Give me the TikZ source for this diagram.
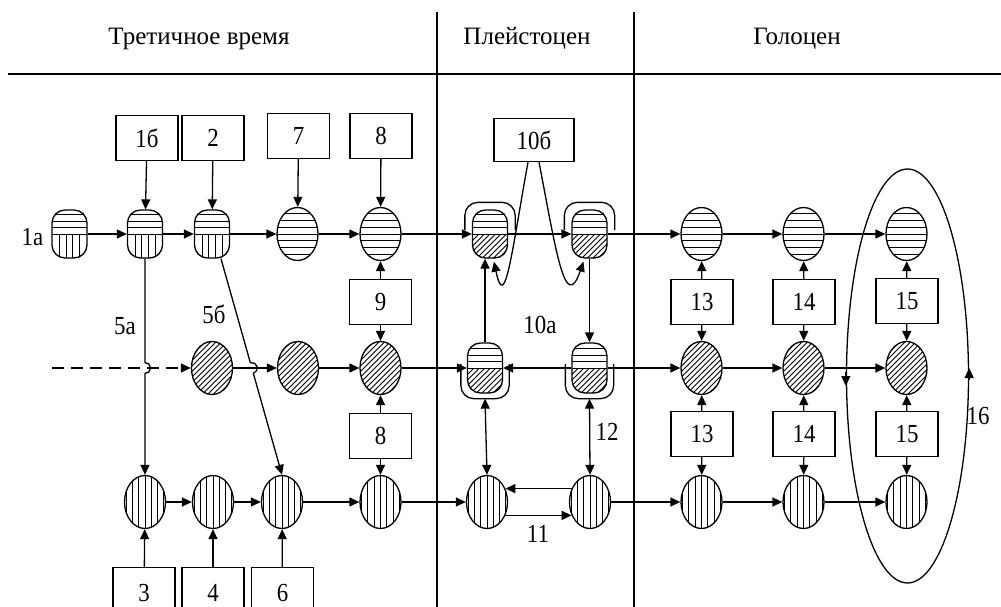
\documentclass[tikz,border=0pt]{standalone}
\usepackage{fontspec}
\setmainfont{Liberation Serif}
\newfontfamily\condserif{Liberation Serif}[FakeStretch=0.88]
\usetikzlibrary{shapes.geometric,arrows.meta,calc}
\begin{document}
\begin{tikzpicture}[x=1pt,y=-1pt,line width=1.3pt,
  txt/.style={font=\condserif\fontsize{26}{30}\selectfont, inner sep=0pt},
  head/.style={font=\fontsize{25}{30}\selectfont, inner sep=0pt, anchor=base},
  tip/.style={-{Triangle[length=10pt,width=9pt]}},
  dtip/.style={{Triangle[length=10pt,width=9pt]}-{Triangle[length=10pt,width=9pt]}},
  hatch/.style={line width=0.9pt},
  box/.style={draw, rectangle, minimum width=62pt, minimum height=45pt, inner sep=0pt,
    font=\condserif\fontsize{26}{30}\selectfont},
  bbox/.style={box, anchor=north, text height=34pt, text depth=26pt},
  oval/.style={draw, ellipse, minimum width=41pt, minimum height=53pt, inner sep=0pt},
  ovH/.style={oval, path picture={
     \foreach \k in {-3,...,3}
       \draw[hatch] ([yshift=\k*6.7pt]path picture bounding box.west) -- ([yshift=\k*6.7pt]path picture bounding box.east);}},
  ovV/.style={oval, path picture={
     \foreach \k in {-3,...,3}
       \draw[hatch] ([xshift=\k*6.3pt]path picture bounding box.north) -- ([xshift=\k*6.3pt]path picture bounding box.south);}},
  ovD/.style={oval, path picture={
     \foreach \k in {-9,...,9}
       \draw[hatch] ([xshift=\k*5.5pt-40pt, yshift=-40pt]path picture bounding box.center) -- ++(80pt,80pt);}},
  caps/.style={draw, rectangle, rounded corners=13pt, minimum width=35pt, minimum height=48pt, inner sep=0pt},
  capT/.style={caps, path picture={
     \foreach \k in {0,6.5,13,19.5}
       \draw[hatch] ([yshift=\k pt]path picture bounding box.west) -- ([yshift=\k pt]path picture bounding box.east);
     \foreach \k in {-10,-3.3,3.3,10}
       \draw[hatch] ([xshift=\k pt]path picture bounding box.center) -- ([xshift=\k pt]path picture bounding box.south);}},
  capP/.style={caps, path picture={
     \foreach \k in {0,6.5,13,19.5}
       \draw[hatch] ([yshift=\k pt]path picture bounding box.west) -- ([yshift=\k pt]path picture bounding box.east);
     \begin{scope}
       \clip[sharp corners] (path picture bounding box.west) rectangle (path picture bounding box.south east);
       \foreach \k in {-9,...,9}
         \draw[hatch] ([xshift=\k*5.5pt-40pt, yshift=-40pt]path picture bounding box.center) -- ++(80pt,80pt);
     \end{scope}}},
]
\fill[white] (0,0) rectangle (1001,607);
\useasboundingbox (0,0) rectangle (1001,607);

% header
\draw[line width=1.9pt] (8,74) -- (1001,74);
\draw (437,12) -- (437,607);
\draw (634,12) -- (634,607);
\node[head] (t1) at (199,45) {Третичное время};
\node[head] (t2) at (527,45) {Плейстоцен};
\node[head] (t3) at (797,45) {Голоцен};

% top boxes
\node[box] (b1b) at (147,138) {1б};
\node[box] (b2) at (213,138) {2};
\node[box] (b7) at (298.5,136) {7};
\node[box] (b8t) at (381,136) {8};
\node[box, minimum width=80pt, minimum height=43pt] (b10) at (534,140) {10б};

% row 1
\node[capT] (c1a) at (69.5,234) {};
\node[capT] (c1b) at (145,234) {};
\node[capT] (c2) at (212,234) {};
\node[ovH] (h7) at (297.5,234) {};
\node[ovH] (h8) at (380.5,234) {};
\node[capP] (pL1) at (490,234) {};
\node[capP] (pR1) at (589.5,234) {};
\node[ovH] (h13) at (701.5,234) {};
\node[ovH] (h14) at (803.5,234) {};
\node[ovH] (h15) at (906.5,234) {};

% row 2
\coordinate (dstart) at (52,368);
\node[ovD] (d2) at (212,368) {};
\node[ovD] (d7) at (298,368) {};
\node[ovD] (d8) at (380.5,368) {};
\node[capP, minimum height=50pt] (pL2) at (485,368) {};
\node[capP, minimum height=50pt] (pR2) at (589.5,368) {};
\node[ovD] (d13) at (701.5,368) {};
\node[ovD] (d14) at (803.5,368) {};
\node[ovD] (d15) at (906.5,368) {};

% row 3
\node[ovV] (v3) at (145,502) {};
\node[ovV] (v4) at (213,502) {};
\node[ovV] (v6) at (282,502) {};
\node[ovV] (v8) at (380.5,502) {};
\node[ovV] (vL) at (487,502) {};
\node[ovV] (vR) at (590,502) {};
\node[ovV] (v13) at (701.5,502) {};
\node[ovV] (v14) at (803.5,502) {};
\node[ovV] (v15) at (906.5,502) {};

% middle boxes
\node[box] (b9) at (380.5,302) {9};
\node[box] (b8b) at (380.5,436) {8};
\node[box] (b13a) at (702,302) {13};
\node[box] (b13b) at (702,434) {13};
\node[box] (b14a) at (804,302) {14};
\node[box] (b14b) at (804,434) {14};
\node[box] (b15a) at (907,301) {15};
\node[box] (b15b) at (907,434) {15};

% bottom boxes
\node[bbox] (b3) at (144,567) {3};
\node[bbox] (b4) at (213,567) {4};
\node[bbox] (b6) at (282.5,567) {6};

% covers of the Pleistocene capsules
\draw[rounded corners=13pt] ($(pL1.west)+(-7,-4)$) -- ($(pL1.north west)+(-7,-7)$)
  -- ($(pL1.north east)+(7,-7)$) -- ($(pL1.east)+(7,-4)$);
\draw[rounded corners=13pt] ($(pR1.west)+(-7,-4)$) -- ($(pR1.north west)+(-7,-7)$)
  -- ($(pR1.north east)+(7,-7)$) -- ($(pR1.east)+(7,-4)$);
\coordinate (cupL) at ($(pL2.south)+(0,5)$);
\coordinate (cupR) at ($(pR2.south)+(0,5)$);
\draw[rounded corners=13pt] ($(pL2.west)+(-6,-4)$) -- ($(pL2.south west)+(-6,5)$)
  -- ($(pL2.south east)+(6,5)$) -- ($(pL2.east)+(6,-4)$);
\draw[rounded corners=13pt] ($(pR2.west)+(-6,-4)$) -- ($(pR2.south west)+(-6,5)$)
  -- ($(pR2.south east)+(6,5)$) -- ($(pR2.east)+(6,-4)$);

% big ring of 16
\node[draw, ellipse, minimum width=122pt, minimum height=414pt, inner sep=0pt] (ring) at (907.5,376) {};
\draw[tip] ($(ring.west)+(0,-4)$) -- ($(ring.west)+(0,10)$);
\draw[tip] ($(ring.east)+(0,4)$) -- ($(ring.east)+(0,-8)$);

% row 1 links
\draw[tip] (c1a) -- (c1b);
\draw[tip] (c1b) -- (c2);
\draw[tip] (c2) -- (h7);
\draw[tip] (h7) -- (h8);
\draw[tip] (h8) -- (pL1);
\draw[tip] (pL1) -- (pR1);
\draw[tip] (pR1) -- (h13);
\draw[tip] (h13) -- (h14);
\draw[tip] (h14) -- (h15);

% row 2 links
\draw[tip, dash pattern=on 12pt off 7pt] (dstart) -- (d2);
\draw[tip] (d2) -- (d7);
\draw[tip] (d7) -- (d8);
\draw[tip] (d8) -- (pL2);
\draw[tip] (pR2) -- (pL2);
\draw[tip] (pR2) -- (d13);
\draw[tip] (d13) -- (d14);
\draw[tip] (d14) -- (d15);

% row 3 links
\draw[tip] (v3) -- (v4);
\draw[tip] (v4) -- (v6);
\draw[tip] (v6) -- (v8);
\draw[tip] (v8) -- (vL);
\draw[tip] (vR.144) -- (vL.36);
\draw[tip] (vL.-36) -- (vR.-144);
\draw[tip] (vR) -- (v13);
\draw[tip] (v13) -- (v14);
\draw[tip] (v14) -- (v15);

% vertical links
\draw[tip] (b1b) -- (c1b);
\draw[tip] (b2) -- (c2);
\draw[tip] (b7) -- (h7);
\draw[tip] (b8t) -- (h8);
\draw[tip] (b9) -- (h8);
\draw[tip] (b9) -- (d8);
\draw[tip] (b8b) -- (d8);
\draw[tip] (b8b) -- (v8);
\foreach \c in {13,14,15}{
  \draw[tip] (b\c a) -- (h\c);
  \draw[tip] (b\c a) -- (d\c);
  \draw[tip] (b\c b) -- (d\c);
  \draw[tip] (b\c b) -- (v\c);
}
\draw[tip] (b3) -- (v3);
\draw[tip] (b4) -- (v4);
\draw[tip] (b6) -- (v6);

% Pleistocene verticals
\draw[tip] (pL2.north) -- (pL2.north |- pL1.south);
\draw[tip] (pR1) -- (pR2);
\draw[dtip] (vL.north) -- (cupL);
\draw[dtip] (vR.north) -- (cupR);

% loops from 10b
\draw[tip] ($(b10.south)+(-6,0)$) .. controls (512,250) and (505,315) .. ($(pL1.south)+(4,3)$);
\draw[tip] ($(b10.south)+(5,0)$) .. controls (556,250) and (565,315) .. ($(pR1.south)+(-6,3)$);

% branches 5a and 5b with hops over row 2
\coordinate (x5a) at (c1b.south |- d2.west);
\draw[tip] (c1b.south) -- ($(x5a)+(0,-5.5)$) arc[start angle=90, end angle=-90, radius=5.5pt] -- (v3.north);
\coordinate (x5b) at (intersection of c2.-70--v6.north and d2.east--d7.west);
\draw[tip] (c2.-70) -- ($(x5b)!5.5pt!(c2.-70)$) arc[start angle=105.7, end angle=-74.3, radius=5.5pt] -- (v6.north);

% labels
\node[txt] (l1a) at (32.5,237) {1а};
\node[txt] (l5a) at (125,326) {5а};
\node[txt] (l5b) at (214,314) {5б};
\node[txt] (l10a) at (540,325) {10а};
\node[txt] (l11) at (538,534) {11};
\node[txt] (l12) at (607,432) {12};
\node[txt] (l16) at (978,416) {16};
\end{tikzpicture}
\end{document}
